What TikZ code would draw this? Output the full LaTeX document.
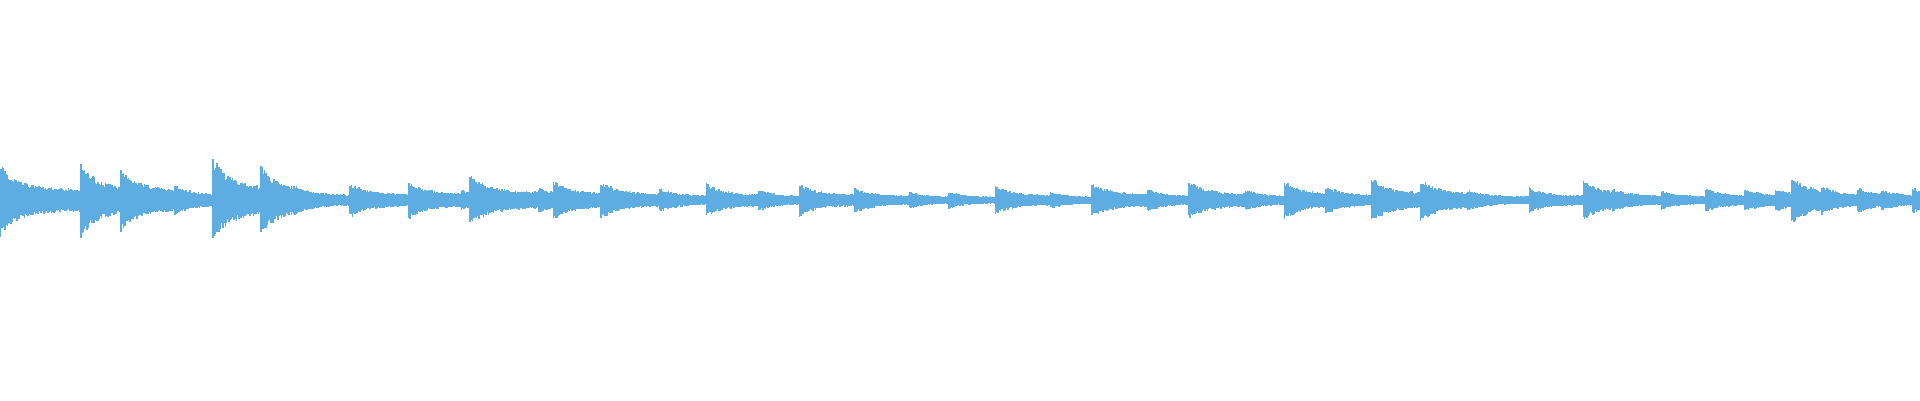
\documentclass[tikz,border=0pt]{standalone}
\begin{document}
\definecolor{wave}{HTML}{5DADE2}
\tikzset{wavecomb/.style={wave,line width=0.45pt,ycomb,mark=none}}
\begin{tikzpicture}[x=0.012245cm,y=0.012245cm]
    \useasboundingbox (0,-163.5) rectangle (1568,163.5);
    \pgfmathsetseed{7}
    % onset / next onset / peak
    \foreach \xa/\xb/\amp in {0/66/30,66/99/30,99/143/27,143/174/12,174/213/34,213/240/28,240/286/12,
      286/334/14,334/377/15,377/384/8,384/440/21,440/452/10,452/491/16,491/539/15,539/577/9,
      577/620/13,620/653/8,653/698/13,698/743/10,743/775/6,775/813/6,813/858/11,858/892/6,
      892/937/14,937/971/9,971/1017/15,1017/1049/8,1049/1083/15,1083/1120/11,1120/1160/18,
      1160/1199/17,1199/1249/8,1249/1293/10,1293/1317/16,1317/1357/9,1357/1393/7,1393/1425/9,
      1425/1450/9,1450/1463/9,1463/1488/19,1488/1517/11,1517/1537/10,1537/1562/8,1562/1568/10}{
      \pgfmathtruncatemacro{\ns}{\xb-\xa+1}
      \draw[wavecomb] plot[domain=\xa:\xb,samples=\ns]
        (\x,{1+\amp*(0.72+0.28*rnd)*(0.28+0.72*exp(-(\x-\xa)/14))});
      \draw[wavecomb] plot[domain=\xa:\xb,samples=\ns]
        (\x,{-1-\amp*(0.72+0.28*rnd)*(0.28+0.72*exp(-(\x-\xa)/14))});
    }
\end{tikzpicture}
\end{document}
